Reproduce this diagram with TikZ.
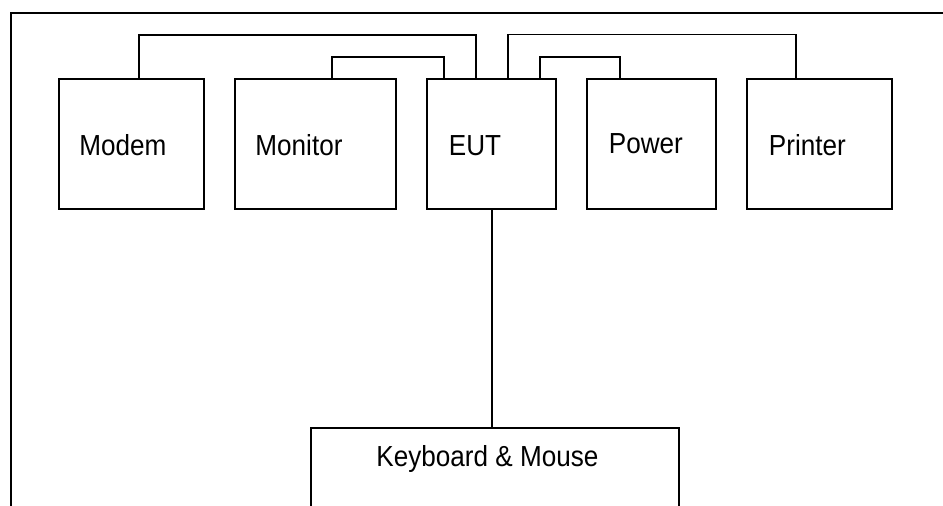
\documentclass[tikz,border=0pt]{standalone}
\usepackage{fontspec}
\setmainfont[FakeStretch=0.9]{Liberation Sans}
\begin{document}
\begin{tikzpicture}[x=0.75pt,y=-0.75pt,line width=1.45pt,
  unit/.style={draw,rectangle,inner sep=0pt,minimum height=97.5pt},
  lbl/.style={anchor=base west,inner sep=0pt,font=\fontsize{21.75}{26}\selectfont}]
\useasboundingbox (0,0) rectangle (943,506);
\clip (0,0) rectangle (943,506);
\fill[white] (0,0) rectangle (943,506);
% outer frame (open to the right and bottom)
\node[draw,rectangle,inner sep=0pt,minimum width=720pt,minimum height=400pt,anchor=north west] (frame) at (10,12) {};
% units
\node[unit,minimum width=108.75pt] (modem) at (131.5,144) {};
\node[unit,minimum width=120.3pt] (monitor) at (315.5,144) {};
\node[unit,minimum width=96.5pt] (eut) at (491.7,144) {};
\node[unit,minimum width=96.3pt] (power) at (651.5,144) {};
\node[unit,minimum width=108.3pt] (printer) at (819.5,144) {};
\node[draw,rectangle,inner sep=0pt,minimum width=276pt,minimum height=120pt,anchor=north] (kb) at (494.7,427) {};
% labels
\node[lbl] (modemt) at (78.5,156) {Modem};
\node[lbl] (monitort) at (254.5,156) {Monitor};
\node[lbl] (eutt) at (448,156) {EUT};
\node[lbl] (powert) at (608,154) {Power};
\node[lbl] (printert) at (768,156) {Printer};
\node[lbl] (kbt) at (375.5,466.7) {Keyboard \& Mouse};
% connectors
\draw (139.3,0 |- modem.north) |- (475.7,35) -- (475.7,0 |- eut.north);
\draw (331.7,0 |- monitor.north) |- (444,57) -- (444,0 |- eut.north);
\draw (507.7,0 |- eut.north) |- (795.7,34.5) -- (795.7,0 |- printer.north);
\draw (539.7,0 |- eut.north) |- (620,57) -- (620,0 |- power.north);
\draw (eut.south) -- (eut.south |- kb.north);
\end{tikzpicture}
\end{document}
